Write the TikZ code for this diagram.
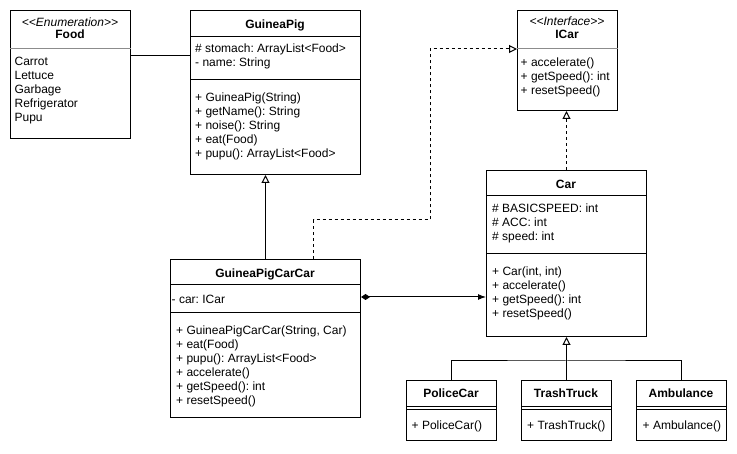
\documentclass[tikz,border=0pt]{standalone}
\usepackage{fontspec}
\setmainfont{Liberation Sans}
\usepackage{tikz}
\usetikzlibrary{arrows.meta,calc,positioning}
\newcommand{\umlfont}{\fontsize{12}{14}\selectfont\frenchspacing}
\newcommand{\umlst}[1]{<\kern0pt<#1>\kern0pt>}
\tikzset{
  classbox/.style={draw, line width=1pt, anchor=north west, inner sep=0pt},
  classname/.style={font=\umlfont\bfseries, inner sep=0pt, text height=8.6pt, text depth=0pt},
  stereotype/.style={font=\umlfont\itshape, inner sep=0pt, text height=8.6pt, text depth=0pt},
  members/.style={font=\umlfont, anchor=north west, inner sep=0pt, align=left, execute at begin node=\strut},
  sep/.style={line width=1pt},
  lightsep/.style={line width=1pt, draw=black!45},
  inherit/.style={-{Triangle[open,length=8pt,width=8pt]}, line width=1pt},
  realize/.style={inherit, dash pattern=on 3pt off 3pt},
  compose/.style={{Diamond[length=9pt,width=6pt]}-{Latex[length=8pt,width=6pt]}, line width=1pt},
}

\begin{document}
\begin{tikzpicture}[x=1pt,y=-1pt]
          \useasboundingbox (0,0) rectangle (737,454);

          % Food
          \node[classbox, minimum width=120pt, minimum height=128pt] at (10,10) (food) {};
          \node[stereotype] at (70,22.5) (foodst) {\umlst{Enumeration}};
          \node[classname] at (70,34.5) (foodname) {Food};
          \draw[lightsep] (food.west |- 0,49) -- (food.east |- 0,49);
          \node[members] at (14.4,57) (foodlits)
          {Carrot\\Lettuce\\Garbage\\Refrigerator\\Pupu};

          % GuineaPig
          \node[classbox, minimum width=170pt, minimum height=164pt] at (190,10) (guineapig) {};
          \node[classname] at (275,24) (gpname) {GuineaPig};
          \draw[sep] (guineapig.west |- 0,37) -- (guineapig.east |- 0,37);
          \draw[sep] (guineapig.west |- 0,80) -- (guineapig.east |- 0,80);
          \node[members] at (195,43.5) (gpattrs)
          {\# stomach: ArrayList<Food>\\- name: String};
          \node[members] at (195,92.5) (gpops)
          {+ GuineaPig(String)\\+ getName(): String\\+ noise(): String\\+ eat(Food)\\+ pupu(): ArrayList<Food>};

          % ICar
          \node[classbox, minimum width=100pt, minimum height=100pt] at (517,10) (icar) {};
          \node[stereotype] at (567,21) (icarst) {\umlst{Interface}};
          \node[classname] at (567,34.5) (icarname) {ICar};
          \draw[lightsep] (icar.west |- 0,49) -- (icar.east |- 0,49);
          \node[members] at (520.5,57.5) (icarops)
          {+ accelerate()\\+ getSpeed(): int\\+ resetSpeed()};

          % Car
          \node[classbox, minimum width=160pt, minimum height=166pt] at (486,170) (car) {};
          \node[classname] at (566,184) (carname) {Car};
          \draw[sep] (car.west |- 0,196) -- (car.east |- 0,196);
          \draw[sep] (car.west |- 0,254) -- (car.east |- 0,254);
          \node[members] at (492,203.5) (carattrs)
          {\# BASICSPEED: int\\\# ACC: int\\\# speed: int};
          \node[members] at (492,266.5) (carops)
          {+ Car(int, int)\\+ accelerate()\\+ getSpeed(): int\\+ resetSpeed()};

          % GuineaPigCarCar
          \node[classbox, minimum width=190pt, minimum height=158pt] at (170,259) (gpcc) {};
          \node[classname] at (265,273) (gpccname) {GuineaPigCarCar};
          \draw[sep] (gpcc.west |- 0,285) -- (gpcc.east |- 0,285);
          \draw[sep] (gpcc.west |- 0,313) -- (gpcc.east |- 0,313);
          \node[members] at (171.5,293.5) (gpccattrs) {- car: ICar};
          \node[members] at (176,325.5) (gpccops)
          {+ GuineaPigCarCar(String, Car)\\+ eat(Food)\\+ pupu(): ArrayList<Food>\\+ accelerate()\\+ getSpeed(): int\\+ resetSpeed()};

          % subclasses of Car
          \node[classbox, minimum width=90pt, minimum height=60pt] at (406,380) (police) {};
          \node[classname] at (451,393) (policename) {PoliceCar};
          \draw[sep] (police.west |- 0,407) -- (police.east |- 0,407);
          \draw[sep] (police.west |- 0,410) -- (police.east |- 0,410);
          \node[members] at (411.5,419.5) (policeops) {+ PoliceCar()};

          \node[classbox, minimum width=90pt, minimum height=60pt] at (521,380) (trash) {};
          \node[classname] at (566,393) (trashname) {TrashTruck};
          \draw[sep] (trash.west |- 0,407) -- (trash.east |- 0,407);
          \draw[sep] (trash.west |- 0,410) -- (trash.east |- 0,410);
          \node[members] at (527,419.5) (trashops) {+ TrashTruck()};

          \node[classbox, minimum width=90pt, minimum height=60pt] at (636,380) (ambulance) {};
          \node[classname] at (681,393) (ambulancename) {Ambulance};
          \draw[sep] (ambulance.west |- 0,407) -- (ambulance.east |- 0,407);
          \draw[sep] (ambulance.west |- 0,410) -- (ambulance.east |- 0,410);
          \node[members] at (642.5,419.5) (ambulanceops) {+ Ambulance()};

          % relations
          \coordinate (foodport) at ($(food.north east)+(0,46)$);
          \coordinate (gpccport) at ($(gpcc.north east)+(0,38)$);
          \coordinate (gpccup) at ($(gpcc.north)+(48,0)$);
          \coordinate (gpccbend) at (430,220);
          \coordinate (bus) at ($(trash.north)+(0,-19)$);
          \draw[sep] (foodport) -- (foodport -| guineapig.west);
          \draw[inherit] (gpcc.north) -- (gpcc.north |- guineapig.south);
          \draw[realize] (gpccup) |- (gpccbend) |- (icar.west |- 0,49);
          \draw[realize] (car.north) -- (car.north |- icar.south);
          \draw[compose] (gpccport) -- (gpccport -| car.west);
          \draw[inherit] (trash.north) -- (trash.north |- car.south);
          \draw[sep] (police.north) |- (bus) -| (ambulance.north);
        \end{tikzpicture}
\end{document}
